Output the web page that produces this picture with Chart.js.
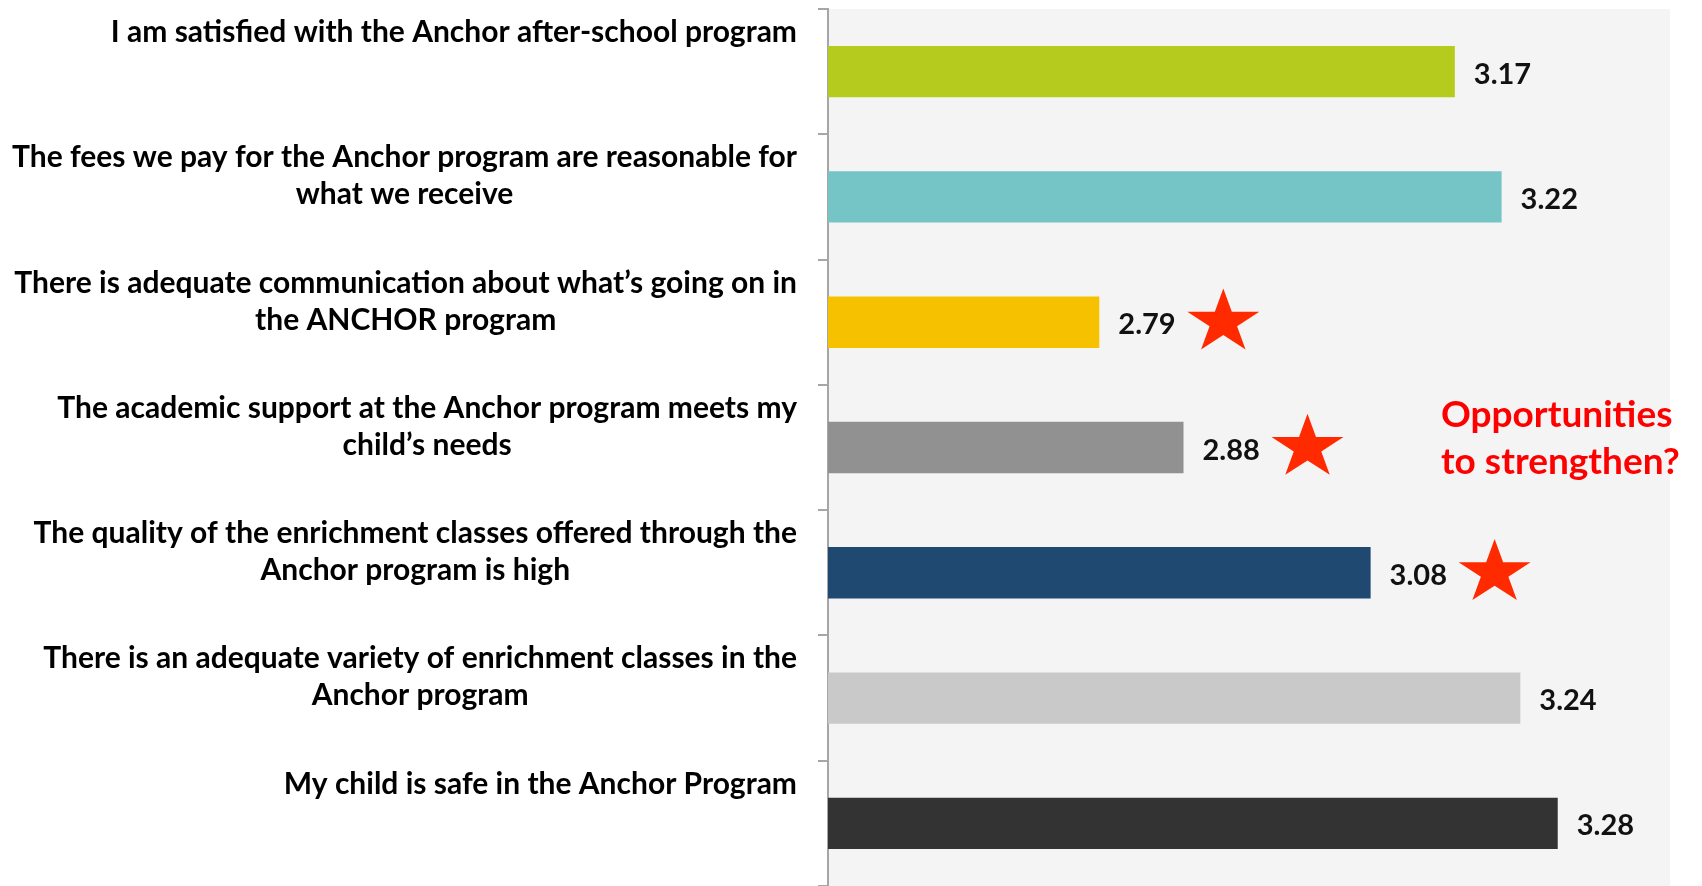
<!DOCTYPE html>
<html>
<head>
<meta charset="utf-8">
<title>Anchor after-school program survey</title>
<script src="https://cdn.jsdelivr.net/npm/chart.js"></script>
<style>
  html, body { margin: 0; padding: 0; background: #fff; }
</style>
</head>
<body>
<canvas id="survey-chart" width="1702" height="886"></canvas>
<script>
const statements = [
    ["I am satisfied with the Anchor after-school program"],
    ["The fees we pay for the Anchor program are reasonable for", "what we receive"],
    ["There is adequate communication about what’s going on in", "the ANCHOR program"],
    ["The academic support at the Anchor program meets my", "child’s needs"],
    ["The quality of the enrichment classes offered through the", "Anchor program is high"],
    ["There is an adequate variety of enrichment classes in the", "Anchor program"],
    ["My child is safe in the Anchor Program"]
];
const scores = [3.17, 3.22, 2.79, 2.88, 3.08, 3.24, 3.28];
const barColors = ["#b5cc1e", "#76c5c6", "#f6c200", "#919191", "#1f4970", "#c9c9c9", "#333333"];
const starred = [false, false, true, true, true, false, false];
const noteLines = ["Opportunities", "to strengthen?"];

const FONT = "Lato, 'Open Sans', sans-serif";

// grey plot background behind the bars
const plotBackground = {
    id: "plotBackground",
    beforeDraw(chart) {
        const { ctx, chartArea } = chart;
        ctx.save();
        ctx.fillStyle = "#f4f4f4";
        ctx.fillRect(chartArea.left, chartArea.top, chartArea.right - chartArea.left, chartArea.bottom - chartArea.top);
        ctx.restore();
    }
};

function drawStar(ctx, cx, cy, halfW, halfH){
    ctx.beginPath();
    for (let k = 0; k < 10; k++){
        const r = k % 2 == 0 ? 1 : 0.382;
        const a = -Math.PI / 2 + k * Math.PI / 5;
        const px = cx + Math.cos(a) * r * halfW / 0.951;
        const py = cy + Math.sin(a) * r * halfH / 0.9045;
        if (k == 0) ctx.moveTo(px, py);
        else ctx.lineTo(px, py);
    }
    ctx.closePath();
    ctx.fill();
}

const annotations = {
    id: "annotations",
    afterDatasetsDraw(chart) {
        const { ctx, chartArea } = chart;
        const yScale = chart.scales.y;
        const bars = chart.getDatasetMeta(0).data;
        const band = yScale.getPixelForValue(1) - yScale.getPixelForValue(0);

        ctx.save();

        // category labels: block right aligned, lines centered inside the block
        ctx.font = "bold 30px " + FONT;
        ctx.fillStyle = "#000";
        ctx.textAlign = "center";
        ctx.textBaseline = "alphabetic";
        const rightEdge = chartArea.left - 31;
        statements.forEach((lines, i) => {
            const top = yScale.getPixelForValue(i) - band / 2;
            const blockWidth = Math.max(...lines.map(l => ctx.measureText(l).width));
            const cx = rightEdge - blockWidth / 2;
            lines.forEach((line, j) => {
                ctx.fillText(line, cx, top + 33 + j * 37);
            });
        });

        // value labels and stars
        ctx.textAlign = "left";
        ctx.font = "bold 29px " + FONT;
        bars.forEach((bar, i) => {
            ctx.fillStyle = "#111";
            ctx.fillText(scores[i].toFixed(2), bar.x + 19, bar.y + 12);
            if (starred[i]){
                ctx.fillStyle = "#ff2a00";
                drawStar(ctx, bar.x + 124, bar.y, 36, 30.5);
            }
        });

        // red note
        ctx.fillStyle = "#ff0000";
        ctx.font = "bold 37px " + FONT;
        const noteY = yScale.getPixelForValue(3);
        noteLines.forEach((line, j) => {
            ctx.fillText(line, chartArea.left + 613, noteY - 21 + j * 47);
        });

        ctx.restore();
    }
};

new Chart("survey-chart", {
    type: "bar",
    data: {
        labels: statements,
        datasets: [{
            data: scores,
            backgroundColor: barColors,
            borderWidth: 0,
            categoryPercentage: 1,
            barPercentage: 0.41
        }]
    },
    options: {
        indexAxis: "y",
        responsive: false,
        animation: false,
        layout: { padding: { left: 818, right: 32, top: 9, bottom: 0 } },
        plugins: {
            legend: { display: false },
            tooltip: { enabled: false }
        },
        scales: {
            x: {
                type: "linear",
                min: 2.5,
                max: 3.4,
                display: false
            },
            y: {
                type: "category",
                offset: true,
                border: { display: true, color: "#a6a6a6", width: 2 },
                grid: {
                    display: true,
                    offset: true,
                    drawOnChartArea: false,
                    drawTicks: true,
                    tickLength: 10,
                    color: "#a6a6a6",
                    lineWidth: 2
                },
                ticks: { display: false }
            }
        }
    },
    plugins: [plotBackground, annotations]
});
</script>
</body>
</html>
